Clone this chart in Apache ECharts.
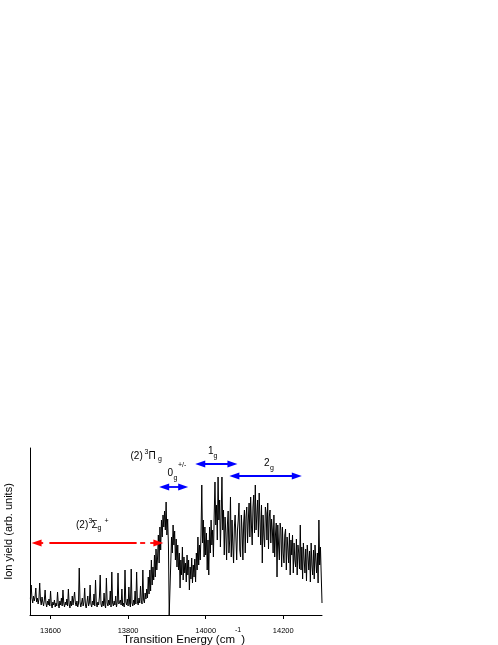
<!DOCTYPE html>
<html><head><meta charset="utf-8">
<script src="https://cdn.jsdelivr.net/npm/echarts@6/dist/echarts.min.js"></script>
<style>html,body{margin:0;padding:0;background:#fff}#chart{width:498px;height:645px}</style>
</head><body><div id="chart"></div>
<script>
// sampling grid of the spectrum (cm^-1)
const energyStart = 13548;
const energyStep = 2;
// ion yield (arb. units), one value per grid point
const intensity = [
16,30,17,12,19,14,18,27,13,17,
11,16,32,15,10,18,13,9,15,25,
12,8,14,10,16,9,24,11,7,13,
10,15,8,12,9,23,11,7,14,10,
17,9,25,12,8,13,10,16,9,26,
11,7,14,9,19,10,8,23,12,9,
14,8,11,47,13,8,12,17,9,13,
27,10,7,13,19,9,12,30,11,8,
14,10,21,9,35,12,8,13,10,18,
40,11,8,14,9,22,10,7,37,12,
9,15,10,24,8,43,12,9,14,10,
19,8,13,42,11,9,15,10,26,9,
12,8,45,13,10,16,9,28,11,8,
46,12,9,15,10,24,11,43,13,10,
17,12,29,14,11,45,15,12,22,16,
26,17,38,21,45,24,55,30,48,35,
60,38,66,45,58,80,52,88,65,95,
78,100,88,104,85,113,80,96,70,0,
0,0,78,62,90,70,84,55,76,48,
70,45,62,27,55,40,68,35,58,42,
52,33,60,40,55,25,48,36,57,32,
50,38,56,33,62,45,78,50,70,55,
80,130,72,95,58,88,60,82,45,75,
40,88,62,95,70,85,58,100,133,90,
110,75,138,95,115,68,100,138,85,105,
60,98,82,55,90,104,62,75,118,58,
95,70,52,88,100,77,55,85,95,112,
65,58,100,84,55,92,105,62,98,108,
72,95,112,78,118,90,70,108,120,82,
130,85,100,115,78,122,95,70,110,52,
100,80,68,108,102,75,112,66,98,105,
72,96,85,62,100,58,80,92,38,90,
70,55,92,85,48,88,62,52,80,86,
45,78,66,52,82,40,75,60,80,42,
72,55,48,76,40,70,62,46,90,45,
68,36,72,55,42,66,34,70,58,45,
64,33,72,50,40,65,36,70,55,42,
62,32,95,50,68,40,12
];
const xTickValues = [13600, 13800, 14000, 14200];
// red (2)3Σg+ range arrow: level and dashed pieces [from, to]
const redArrowLevel = 72;
const redPieces = [[13564, 13581], [13597, 13822], [13831, 13844], [13857, 13878]];
// blue double arrows: [from, to, level]
const blueArrows = [[13893, 13942, 128], [13986, 14069, 151], [14074, 14235, 139]];

const FONT = '"Liberation Sans", Arial, Helvetica, sans-serif';
const seriesData = intensity.map((v, i) => [energyStart + i * energyStep, v]);

const markLines = [];
redPieces.forEach((p, k) => {
  markLines.push([
    { coord: [p[0], redArrowLevel], symbol: k === 0 ? 'triangle' : 'none',
      lineStyle: { color: '#ff0000', width: 1.8, type: 'solid' } },
    { coord: [p[1], redArrowLevel], symbol: k === redPieces.length - 1 ? 'triangle' : 'none' }
  ]);
});
blueArrows.forEach(a => {
  markLines.push([
    { coord: [a[0], a[2]], symbol: 'triangle', lineStyle: { color: '#0000ff', width: 1.8, type: 'solid' } },
    { coord: [a[1], a[2]], symbol: 'triangle' }
  ]);
});

const labelPieces = [
  { t: '(2)', x: 130.5, y: 456, s: 10 }, { t: '3', x: 144.5, y: 452.5, s: 7 },
  { t: 'Π', x: 148.5, y: 456, s: 10 }, { t: 'g', x: 158, y: 459, s: 7 },
  { t: '(2)', x: 76, y: 525, s: 10 }, { t: '3', x: 88.5, y: 521.2, s: 7 },
  { t: 'Σ', x: 91.5, y: 525, s: 10 }, { t: 'g', x: 97.5, y: 528, s: 7 }, { t: '+', x: 104.5, y: 521.3, s: 7 },
  { t: '0', x: 167.5, y: 473, s: 10 }, { t: 'g', x: 173.5, y: 478, s: 7 }, { t: '+/-', x: 178, y: 465, s: 7 },
  { t: '1', x: 208, y: 451, s: 10 }, { t: 'g', x: 213.5, y: 456, s: 7 },
  { t: '2', x: 264, y: 463, s: 10 }, { t: 'g', x: 270, y: 468, s: 7 }
];

const chart = echarts.init(document.getElementById('chart'), null, { renderer: 'canvas' });
chart.setOption({
  animation: false,
  backgroundColor: '#ffffff',
  grid: { left: 30, right: 176, top: 448, bottom: 30, containLabel: false, outerBoundsMode: 'none' },
  xAxis: {
    type: 'value', min: 13547, max: 14300,
    axisLine: { show: true, onZero: false, lineStyle: { color: '#000', width: 1 } },
    axisTick: { show: true, customValues: xTickValues, length: 4, inside: false, lineStyle: { color: '#000', width: 1 } },
    axisLabel: { show: true, customValues: xTickValues, formatter: v => String(v), fontSize: 7.5, fontFamily: '"Liberation Sans Narrow", "Liberation Sans", Arial, sans-serif', color: '#000', margin: 12 },
    splitLine: { show: false },
    name: '{m|Transition Energy (cm}{sup|-1}{m|)}',
    nameLocation: 'middle', nameGap: 11.5, nameMoveOverlap: false,
    nameTextStyle: {
      color: '#000', fontFamily: FONT, fontSize: 11.5, padding: [0, 0, 0, 16],
      rich: {
        m: { fontSize: 11.5, fontFamily: FONT, color: '#000', lineHeight: 19, verticalAlign: 'bottom' },
        sup: { fontSize: 7, fontFamily: FONT, color: '#000', lineHeight: 8, verticalAlign: 'top' }
      }
    }
  },
  yAxis: {
    type: 'value', min: 0, max: 167,
    axisLine: { show: true, lineStyle: { color: '#000', width: 1 } },
    axisTick: { show: false }, axisLabel: { show: false }, splitLine: { show: false },
    name: 'Ion yield (arb. units)', nameLocation: 'middle', nameGap: 16, nameRotate: 90, nameMoveOverlap: false,
    nameTextStyle: { color: '#000', fontFamily: FONT, fontSize: 11 }
  },
  series: [{
    type: 'line', data: seriesData, symbol: 'none', showSymbol: false,
    lineStyle: { color: '#000', width: 1 }, clip: false,
    markLine: {
      silent: true, animation: false,
      symbolSize: [7, 10],
      label: { show: false },
      emphasis: { disabled: true },
      data: markLines
    }
  }],
  graphic: labelPieces.map(p => ({
    type: 'text', x: p.x, y: p.y, silent: true,
    style: { text: p.t, fontSize: p.s, fontFamily: FONT, fill: '#000', align: 'left', verticalAlign: 'middle' }
  }))
});
</script>
</body></html>
